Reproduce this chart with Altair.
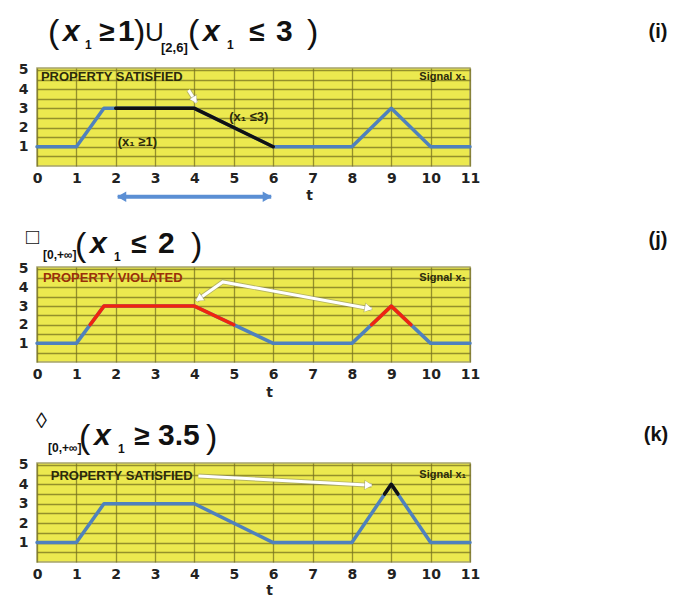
import math
import altair as alt
import pandas as pd

# ---------------- data ----------------
t_signal = [0, 1, 1.7, 4, 6, 8, 9, 10, 11]
x1_signal_ij = [1, 1, 3, 3, 1, 1, 3, 1, 1]
x1_signal_k = [1, 1, 3, 3, 1, 1, 4, 1, 1]

t_until = [2, 4, 6]
v_until = [3, 3, 1]

t_violated = [1.35, 1.7, 4, 5, 8.5, 9, 9.5]
v_violated = [2, 3, 3, 2, 2, 3, 2]
seg_violated = ["a", "a", "a", "a", "b", "b", "b"]

t_event = [8.83, 9, 9.17]
v_event = [3.5, 4, 3.5]

x_tick_values = [0, 1, 2, 3, 4, 5, 6, 7, 8, 9, 10, 11]
y_tick_values = [0.5, 1, 1.5, 2, 2.5, 3, 3.5, 4, 4.5, 5]

formula_i = ["(", "x", "1", "≥", "1", ")", "U", "[2,6]", "(", "x", "1", "≤", "3", ")"]
formula_j = ["□", "[0,+∞]", "(", "x", "1", "≤", "2", ")"]
formula_k = ["◊", "[0,+∞]", "(", "x", "1", "≥", "3.5", ")"]
panel_labels = ["(i)", "(j)", "(k)"]
status_texts = ["PROPERTY SATISFIED", "PROPERTY VIOLATED", "PROPERTY SATISFIED"]
signal_label = "Signal x₁"
until_left = "(x₁ ≥1)"
until_right = "(x₁ ≤3)"

# ---------------- layout ----------------
W = 433
HEIGHTS = [98, 95, 99]
YDOM = [0, 5.1]
PXX = W / 11.0

BLUE = "#4f81bd"
RED = "#f0240f"
BLACK = "#111111"
TXT = "#2b2a0c"
SANS = "Liberation Sans"
NARROW = "Liberation Sans Narrow, Liberation Sans, sans-serif"


def xenc(title_x, title_y):
    return alt.X(
        "t:Q",
        scale=alt.Scale(domain=[0, 11], nice=False, zero=False),
        axis=alt.Axis(values=x_tick_values, grid=True, ticks=False, domain=False,
                      labelPadding=5, labelFlush=False, labelOverlap=False, title="t",
                      titleX=title_x, titleY=title_y, titleAlign="center",
                      titleBaseline="middle", titleFont="DejaVu Sans",
                      titleFontSize=14, titleFontWeight="bold", titleColor="#222"),
    )


def yenc():
    return alt.Y(
        "v:Q",
        scale=alt.Scale(domain=YDOM, nice=False, zero=False),
        axis=alt.Axis(values=y_tick_values, grid=True, ticks=False, domain=False,
                      labelPadding=9, labelFlush=False, labelOverlap=False, title=None,
                      labelExpr="datum.value % 1 === 0 ? format(datum.value, 'd') : ''"),
    )


def line_layer(ts, vs, color, xe, width=3.5, seg=None):
    df = pd.DataFrame({"t": ts, "v": vs, "seg": seg if seg else ["s"] * len(ts)})
    return alt.Chart(df).mark_line(color=color, strokeWidth=width, strokeCap="round",
                                   strokeJoin="round").encode(
        x=xe, y=yenc(), detail="seg:N", order="t:Q")


def text_px(s, x, y, size, weight="bold", style="normal", font=SANS, color="#111",
            align="left", baseline="alphabetic"):
    return alt.Chart(pd.DataFrame({"a": [0]})).mark_text(
        font=font, fontSize=size, fontWeight=weight, fontStyle=style, color=color,
        align=align, baseline=baseline).encode(
        x=alt.value(x), y=alt.value(y), text=alt.value(s))


def text_data(s, tx, vy, size, xe, color=TXT, align="left", font=NARROW):
    return alt.Chart(pd.DataFrame({"t": [tx], "v": [vy], "s": [s]})).mark_text(
        font=font, fontSize=size, fontWeight="bold", color=color, align=align,
        baseline="middle").encode(x=xe, y=yenc(), text="s:N")


def arrow_layers(path_t, path_v, heads, color, width, pxy, xe, hsize, back, shadow=True):
    """path: polyline; heads: list of (tip index, from index)."""
    layers = []
    df = pd.DataFrame({"t": path_t, "v": path_v, "o": list(range(len(path_t)))})
    if shadow:
        layers.append(alt.Chart(df).mark_line(color="#8c8c70", strokeWidth=width + 1.8,
                                              opacity=0.55).encode(
            x=xe, y=yenc(), order="o:Q"))
    layers.append(alt.Chart(df).mark_line(color=color, strokeWidth=width).encode(
        x=xe, y=yenc(), order="o:Q"))
    for tip, frm in heads:
        xt, yt = path_t[tip], path_v[tip]
        xf, yf = path_t[frm], path_v[frm]
        dxp = (xt - xf) * PXX
        dyp = -(yt - yf) * pxy
        L = math.hypot(dxp, dyp)
        ang = math.degrees(math.atan2(dxp, -dyp)) % 360
        cx = xt - dxp / L * back / PXX
        cy = yt + dyp / L * back / pxy
        hd = pd.DataFrame({"t": [cx], "v": [cy]})
        if shadow:
            layers.append(alt.Chart(hd).mark_point(shape="triangle-up", filled=True,
                                                   size=hsize * 1.5, angle=ang,
                                                   color="#8c8c70", opacity=0.55).encode(
                x=xe, y=yenc()))
        layers.append(alt.Chart(hd).mark_point(shape="triangle-up", filled=True,
                                               size=hsize, angle=ang, color=color,
                                               opacity=1).encode(x=xe, y=yenc()))
    return layers


def formula_layers(pieces, styles, origin):
    ox, oy = origin
    out = []
    for s, (px, py, size, weight, style) in zip(pieces, styles):
        out.append(text_px(s, px - ox, py - oy, size, weight, style))
    return out


# ---------------- panel (i) ----------------
H = HEIGHTS[0]
pxy = H / (YDOM[1] - YDOM[0])
xe = xenc(272, 29)
styles_i = [(47, 44, 34, "normal", "normal"), (62, 42, 30, "bold", "italic"),
            (84, 50, 12, "bold", "normal"), (98, 42, 28, "bold", "normal"),
            (117, 42, 30, "bold", "normal"), (133, 44, 34, "normal", "normal"),
            (144, 42, 26, "normal", "normal"), (160, 53, 13, "bold", "normal"),
            (187, 44, 34, "normal", "normal"), (202, 42, 30, "bold", "italic"),
            (226, 50, 12, "bold", "normal"), (248, 42, 28, "bold", "normal"),
            (275, 42, 30, "bold", "normal"), (306, 44, 34, "normal", "normal")]
layers_i = [
    line_layer(t_signal, x1_signal_ij, BLUE, xe),
    line_layer(t_until, v_until, BLACK, xe),
    text_data(status_texts[0], 0.1, 4.62, 13, xe),
    text_data(signal_label, 10.9, 4.62, 11, xe, align="right"),
    text_data(until_left, 2.55, 1.27, 13, xe, align="center"),
    text_data(until_right, 5.38, 2.55, 13, xe, align="center"),
]
layers_i += arrow_layers([3.85, 4.05], [3.95, 3.3], [(1, 0)], "white", 3, pxy, xe, 60, 3)
layers_i += arrow_layers([2.05, 5.95], [-1.6, -1.6], [(0, 1), (1, 0)], "#5b8fd4", 4,
                         pxy, xe, 110, 4, shadow=False)
layers_i += formula_layers(formula_i, styles_i, (36, 69))
layers_i.append(text_px(panel_labels[0], 657 - 36, 33 - 69, 20, align="center",
                        baseline="middle"))
p1 = alt.layer(*layers_i).properties(width=W, height=H)

# ---------------- panel (j) ----------------
H = HEIGHTS[1]
pxy = H / (YDOM[1] - YDOM[0])
xe = xenc(232, 30)
styles_j = [(25, 246, 22, "normal", "normal"), (42, 261, 12, "bold", "normal"),
            (74, 258, 34, "normal", "normal"), (89, 255, 30, "bold", "italic"),
            (113, 263, 12, "bold", "normal"), (130, 255, 28, "bold", "normal"),
            (157, 255, 30, "bold", "normal"), (190, 258, 34, "normal", "normal")]
layers_j = [
    line_layer(t_signal, x1_signal_ij, BLUE, xe),
    line_layer(t_violated, v_violated, RED, xe, seg=seg_violated),
    text_data(status_texts[1], 0.15, 4.5, 13, xe, color="#9a2f0a"),
    text_data(signal_label, 10.9, 4.5, 11, xe, align="right"),
]
layers_j += arrow_layers([4.05, 4.72, 8.5], [3.3, 4.3, 2.85], [(0, 1), (2, 1)], "white",
                         3, pxy, xe, 70, 3)
layers_j += formula_layers(formula_j, styles_j, (36, 269))
layers_j.append(text_px(panel_labels[1], 657 - 36, 242 - 269, 20, align="center",
                        baseline="middle"))
p2 = alt.layer(*layers_j).properties(width=W, height=H)

# ---------------- panel (k) ----------------
H = HEIGHTS[2]
pxy = H / (YDOM[1] - YDOM[0])
xe = xenc(232, 28)
styles_k = [(35, 428, 22, "normal", "normal"), (47, 452, 12, "bold", "normal"),
            (78, 448, 34, "normal", "normal"), (93, 445, 30, "bold", "italic"),
            (117, 453, 12, "bold", "normal"), (133, 445, 28, "bold", "normal"),
            (157, 445, 30, "bold", "normal"), (205, 448, 34, "normal", "normal")]
layers_k = [
    line_layer(t_signal, x1_signal_k, BLUE, xe),
    line_layer(t_event, v_event, BLACK, xe),
    text_data(status_texts[2], 0.35, 4.43, 13, xe),
    text_data(signal_label, 10.9, 4.5, 11, xe, align="right"),
]
layers_k += arrow_layers([4.1, 8.5], [4.43, 3.95], [(1, 0)], "white", 3, pxy, xe, 70, 3)
layers_k += formula_layers(formula_k, styles_k, (36, 463))
layers_k.append(text_px(panel_labels[2], 655 - 36, 435 - 463, 20, align="center",
                        baseline="middle"))
p3 = alt.layer(*layers_k).properties(width=W, height=H)

chart = alt.vconcat(p1, p2, p3, spacing=101, bounds="flush").properties(
    padding={"left": 9, "top": 7, "right": 5, "bottom": 5},
    background="white",
).configure_view(
    fill="#ece94f", stroke="#a5a36c", strokeWidth=1.5
).configure_axis(
    gridColor="#77721f", gridOpacity=0.75, gridWidth=1.3,
    labelFont="DejaVu Sans", labelFontWeight="bold", labelFontSize=14,
    labelColor="#222",
)

chart.save("out.html", embed_options={"renderer": "svg", "actions": False})
